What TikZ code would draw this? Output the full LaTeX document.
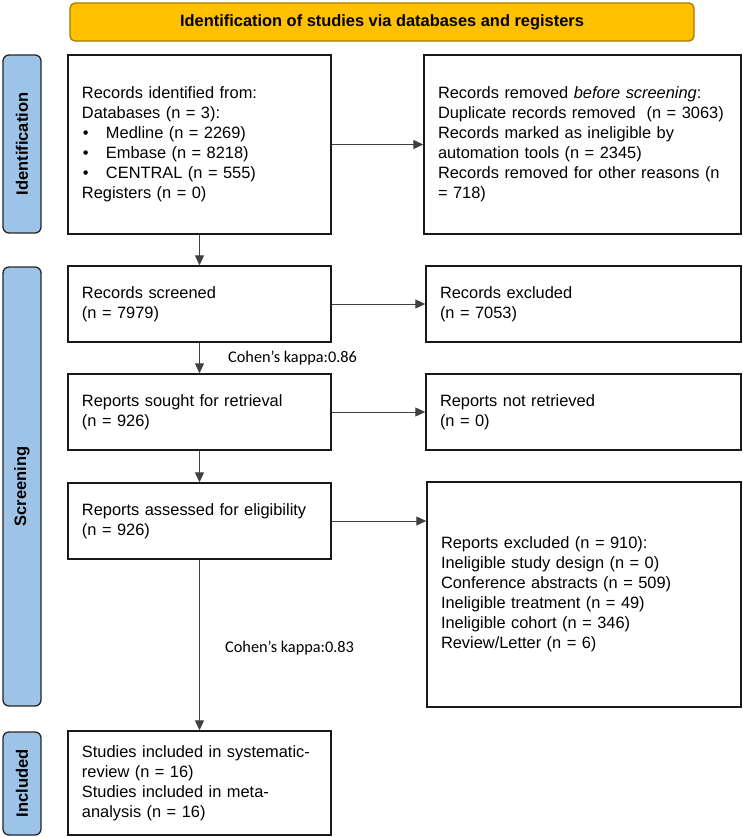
\documentclass[tikz,border=0pt]{standalone}
\usepackage{fontspec}
\setmainfont{Liberation Sans}
\newfontfamily\calib{Carlito}
\usetikzlibrary{arrows.meta}
\definecolor{gold}{HTML}{FFC000}
\definecolor{golddark}{HTML}{A67C00}
\definecolor{sideblue}{HTML}{9DC3E6}
\tikzset{
  box/.style={draw=black!90, line width=1.4bp, rectangle, inner xsep=14bp, inner ysep=0pt, align=left,
    font=\fontsize{16.4bp}{20bp}\selectfont},
  side/.style={draw=black!85, fill=sideblue, line width=1.3bp, rounded corners=6bp, rotate=90,
    minimum height=38bp, inner sep=0pt, font=\bfseries\fontsize{16.5bp}{20bp}\selectfont},
  conn/.style={draw=black!75, line width=1bp, -{Triangle[length=10bp,width=9bp]}},
  kappa/.style={font=\calib\fontsize{16.3bp}{20bp}\selectfont, anchor=west, inner sep=0pt},
}
\newcommand{\bul}[1]{\makebox[24bp][l]{\hspace{1bp}\textbullet}#1}
\begin{document}
\begin{tikzpicture}[x=1bp,y=-1bp]
\useasboundingbox (0,0) rectangle (743,837);
% title
\node[draw=golddark, fill=gold, line width=1.3bp, rounded corners=5bp, minimum width=624bp, minimum height=38bp, inner sep=0pt,
  font=\bfseries\fontsize{16.4bp}{20bp}\selectfont] (title) at (382,22) {Identification of studies via databases and registers};
% side labels
\node[side, minimum width=178bp] (sid) at (22,144) {Identification};
\node[side, minimum width=439bp] (sscr) at (22,486.5) {Screening};
\node[side, minimum width=103bp] (sinc) at (22,783.5) {Included};
% boxes
\node[box, minimum width=263bp, minimum height=179bp, text width=235bp] (b1) at (199.5,144.5)
  {Records identified from:\\Databases (n = 3):\\\bul{Medline (n = 2269)}\\\bul{Embase (n = 8218)}\\\bul{CENTRAL (n = 555)}\\Registers (n = 0)};
\node[box, minimum width=317bp, minimum height=179bp, text width=289bp] (b2) at (582.5,144.5)
  {Records removed \textit{before screening}:\\Duplicate records removed\ \ (n = 3063)\\Records marked as ineligible by\\automation tools (n = 2345)\\Records removed for other reasons (n\\= 718)};
\node[box, minimum width=263bp, minimum height=76bp, text width=235bp] (b3) at (199.5,304)
  {Records screened\\(n = 7979)};
\node[box, minimum width=315bp, minimum height=76bp, text width=287bp] (b3r) at (583.5,304)
  {Records excluded\\(n = 7053)};
\node[box, minimum width=263bp, minimum height=76bp, text width=235bp] (b4) at (199.5,412)
  {Reports sought for retrieval\\(n = 926)};
\node[box, minimum width=315bp, minimum height=76bp, text width=287bp] (b4r) at (583.5,412)
  {Reports not retrieved\\(n = 0)};
\node[box, minimum width=263bp, minimum height=76bp, text width=235bp] (b5) at (199.5,521)
  {Reports assessed for eligibility\\(n = 926)};
\node[box, minimum width=314bp, minimum height=225bp, text width=286bp] (b5r) at (584,594.5)
  {Reports excluded (n = 910):\\Ineligible study design (n = 0)\\Conference abstracts (n = 509)\\Ineligible treatment (n = 49)\\Ineligible cohort (n = 346)\\Review/Letter (n = 6)};
\node[box, minimum width=263bp, minimum height=104bp, text width=235bp] (b6) at (199.5,783)
  {Studies included in systematic-\\review (n = 16)\\Studies included in meta-\\analysis (n = 16)};
% kappa labels
\node[kappa] (k1) at (228,358) {Cohen’s kappa:0.86};
\node[kappa] (k2) at (225,648) {Cohen’s kappa:0.83};
% connectors
\draw[conn] (b1) -- (b2);
\draw[conn] (b1) -- (b3);
\draw[conn] (b3) -- (b3r);
\draw[conn] (b3) -- (b4);
\draw[conn] (b4) -- (b4r);
\draw[conn] (b4) -- (b5);
\draw[conn] (b5.east) -- (b5.east -| b5r.west);
\draw[conn] (b5) -- (b6);
\end{tikzpicture}
\end{document}
